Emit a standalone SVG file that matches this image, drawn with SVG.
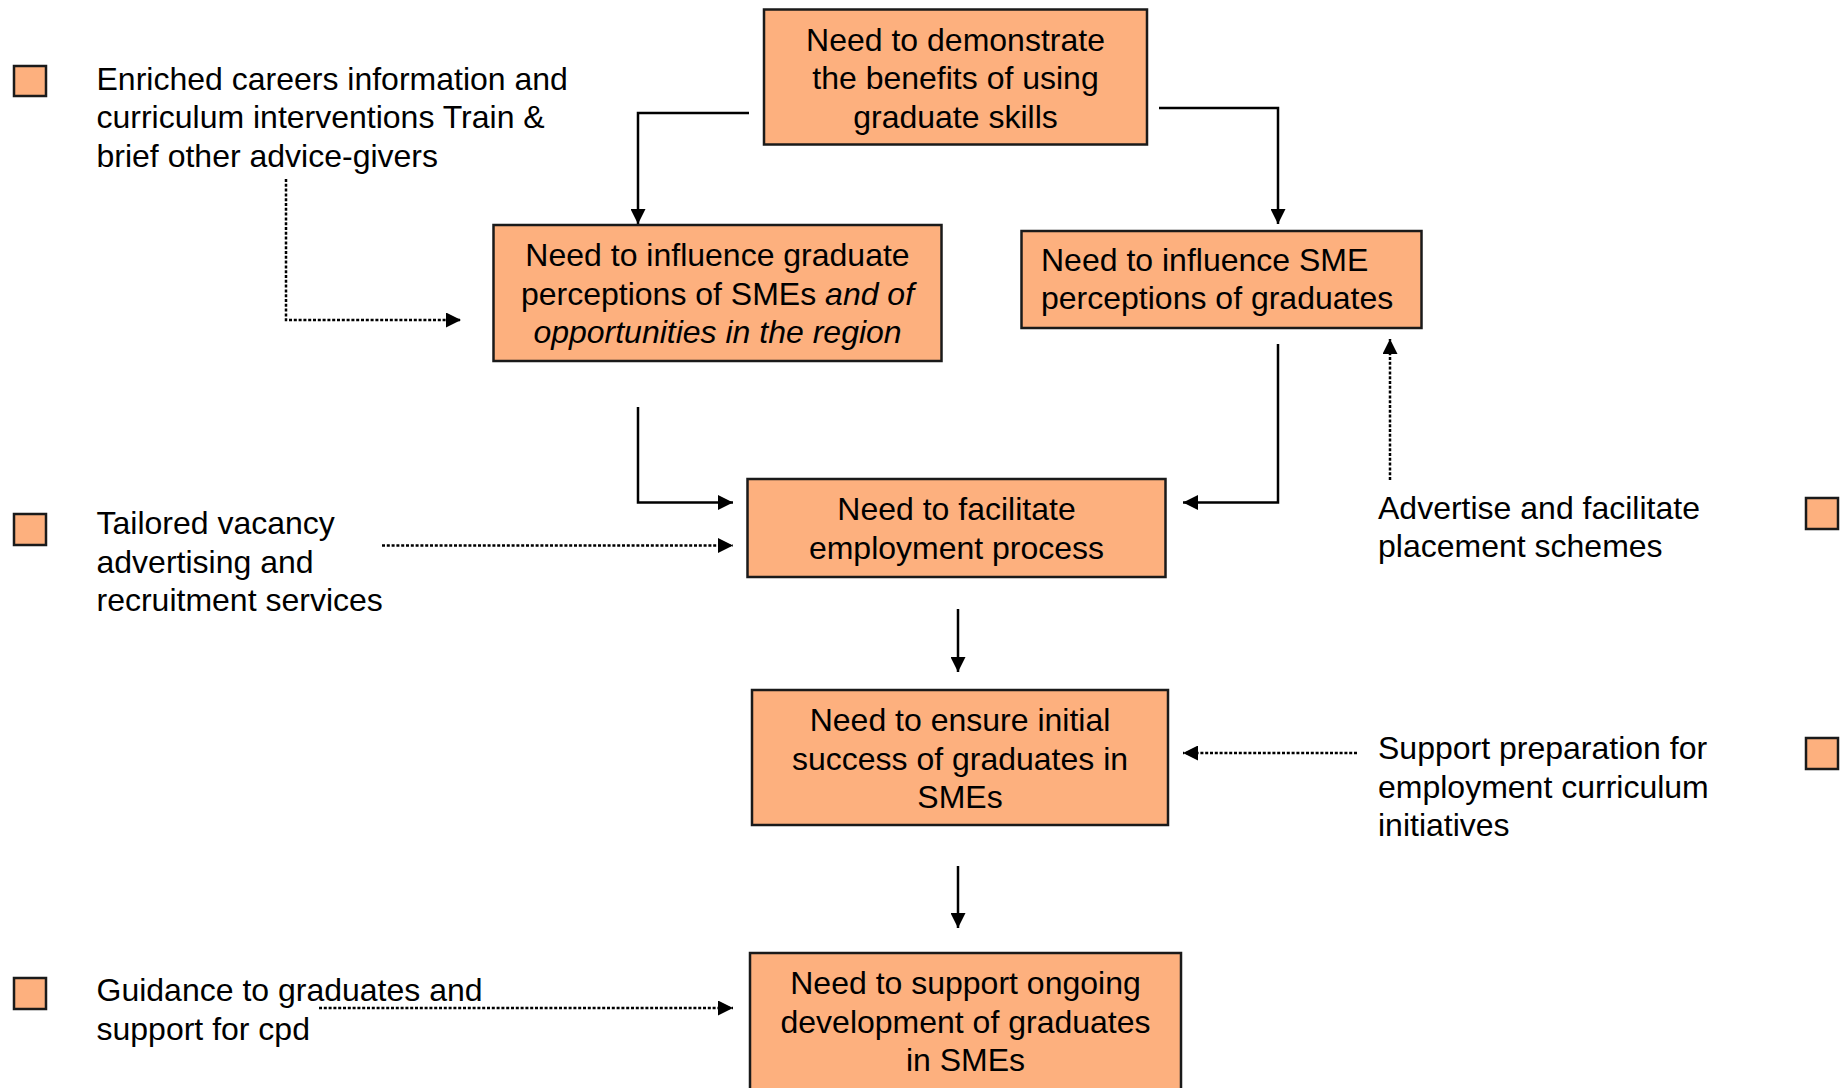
<svg xmlns="http://www.w3.org/2000/svg" width="1845" height="1088" viewBox="0 0 1845 1088">
<style>
.box{fill:#FDB07E;stroke:#1a1a1a;stroke-width:2.5}
.sq{fill:#FDB07E;stroke:#1a1a1a;stroke-width:2.5}
text{font-family:"Liberation Sans",Arial,sans-serif;font-size:32px;fill:#000}
.c{text-anchor:middle}
.solid{fill:none;stroke:#000;stroke-width:2.5}
.dot{fill:none;stroke:#000;stroke-width:2.5;stroke-dasharray:3 1.8}
</style>
<defs>
<marker id="ah" viewBox="0 0 10 10" refX="10" refY="5" markerUnits="userSpaceOnUse" markerWidth="15" markerHeight="15" orient="auto">
<path d="M0,0 L10,5 L0,10 z" fill="#000"/>
</marker>
</defs>
<rect width="1845" height="1088" fill="#fff"/>
<g id="connectors">
<polyline class="solid" points="749,113 638,113 638,224" marker-end="url(#ah)"/>
<polyline class="solid" points="1159,108 1278,108 1278,224" marker-end="url(#ah)"/>
<polyline class="solid" points="638,407 638,502.5 733,502.5" marker-end="url(#ah)"/>
<polyline class="solid" points="1278,344 1278,502.5 1183,502.5" marker-end="url(#ah)"/>
<polyline class="dot" points="286,179 286,320 461,320" marker-end="url(#ah)"/>
<polyline class="dot" points="382,545.5 733,545.5" marker-end="url(#ah)"/>
<polyline class="dot" points="1390,480 1390,339" marker-end="url(#ah)"/>
<polyline class="solid" points="958,609 958,672" marker-end="url(#ah)"/>
<polyline class="dot" points="1357,753 1183,753" marker-end="url(#ah)"/>
<polyline class="solid" points="958,866 958,928" marker-end="url(#ah)"/>
<polyline class="dot" points="319,1008 733,1008" marker-end="url(#ah)"/>
</g>
<g id="n1">
<rect class="box" x="764" y="9.5" width="383" height="135"/>
<text class="c" x="955.5" y="50.5">Need to demonstrate</text>
<text class="c" x="955.5" y="89">the benefits of using</text>
<text class="c" x="955.5" y="127.5">graduate skills</text>
</g>
<g id="n2">
<rect class="box" x="493.5" y="225" width="448" height="136"/>
<text class="c" x="717.5" y="266">Need to influence graduate</text>
<text class="c" x="717.5" y="304.5">perceptions of SMEs <tspan font-style="italic">and of</tspan></text>
<text class="c" x="717.5" y="343" font-style="italic">opportunities in the region</text>
</g>
<g id="n3">
<rect class="box" x="1021.5" y="231" width="400" height="97"/>
<text x="1041" y="270.5">Need to influence SME</text>
<text x="1041" y="309">perceptions of graduates</text>
</g>
<g id="n4">
<rect class="box" x="747.5" y="479" width="418" height="98"/>
<text class="c" x="956.5" y="520">Need to facilitate</text>
<text class="c" x="956.5" y="558.5">employment process</text>
</g>
<g id="n5">
<rect class="box" x="752" y="690" width="416" height="135"/>
<text class="c" x="960" y="731">Need to ensure initial</text>
<text class="c" x="960" y="769.5">success of graduates in</text>
<text class="c" x="960" y="808">SMEs</text>
</g>
<g id="n6">
<rect class="box" x="750" y="953" width="431" height="140"/>
<text class="c" x="965.5" y="994">Need to support ongoing</text>
<text class="c" x="965.5" y="1032.5">development of graduates</text>
<text class="c" x="965.5" y="1071">in SMEs</text>
</g>
<g id="l1">
<rect class="sq" x="14" y="66" width="32" height="30"/>
<text x="96.5" y="89.5">Enriched careers information and</text>
<text x="96.5" y="128">curriculum interventions Train &amp;</text>
<text x="96.5" y="166.5">brief other advice-givers</text>
</g>
<g id="l2">
<rect class="sq" x="14" y="514" width="32" height="31"/>
<text x="96.5" y="534">Tailored vacancy</text>
<text x="96.5" y="572.5">advertising and</text>
<text x="96.5" y="611">recruitment services</text>
</g>
<g id="l3">
<rect class="sq" x="14" y="978" width="32" height="31"/>
<text x="96.5" y="1001">Guidance to graduates and</text>
<text x="96.5" y="1039.5">support for cpd</text>
</g>
<g id="r1">
<rect class="sq" x="1806" y="498" width="32" height="31"/>
<text x="1378" y="518.5">Advertise and facilitate</text>
<text x="1378" y="557">placement schemes</text>
</g>
<g id="r2">
<rect class="sq" x="1806" y="738" width="32" height="31"/>
<text x="1378" y="759">Support preparation for</text>
<text x="1378" y="797.5">employment curriculum</text>
<text x="1378" y="836">initiatives</text>
</g>
</svg>
